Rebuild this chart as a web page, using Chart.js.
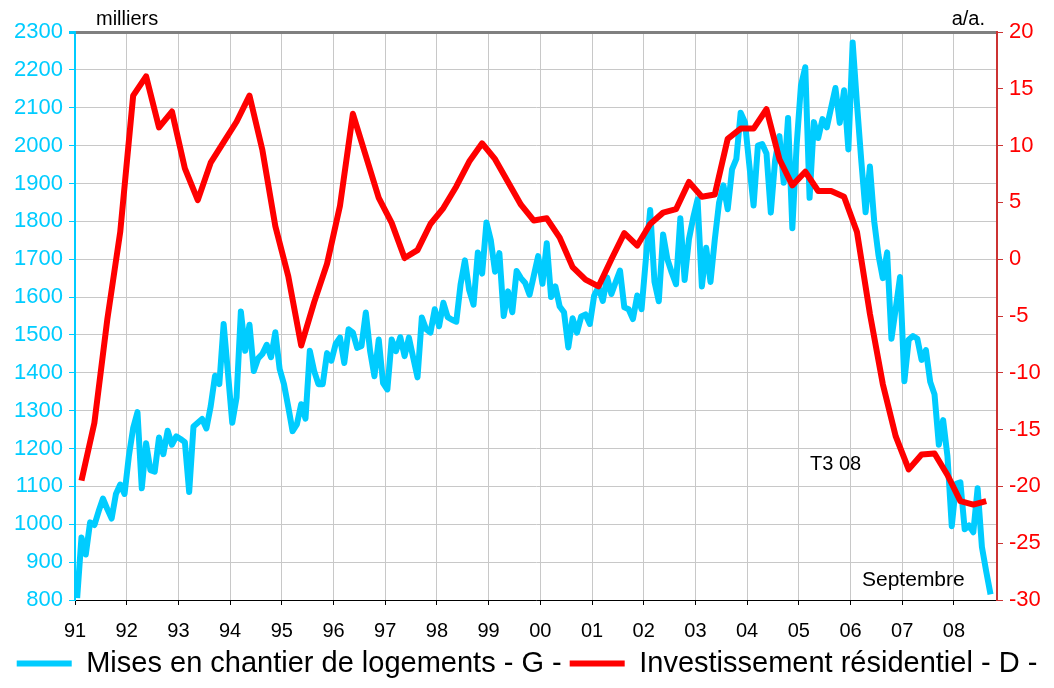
<!DOCTYPE html>
<html lang="fr">
<head>
<meta charset="UTF-8">
<title>Mises en chantier et investissement résidentiel</title>
<script src="https://cdn.jsdelivr.net/npm/chart.js"></script>
<style>
  html, body { margin: 0; padding: 0; background: #fff; }
</style>
</head>
<body>
<canvas id="graf" width="1054" height="688"></canvas>
<script>
// étiquettes de l'axe des abscisses (début de chaque année)
const annees = ['91', '92', '93', '94', '95', '96', '97', '98', '99', '00',
                '01', '02', '03', '04', '05', '06', '07', '08'];

// mises en chantier de logements, milliers, mensuel (janv. 91 -> sept. 08)
const misesEnChantier = [
  805, 965, 920, 1005, 998, 1035, 1068, 1040, 1015, 1080, 1105, 1080,
  1180, 1254, 1296, 1095, 1214, 1143, 1139, 1229, 1185, 1247, 1210, 1232,
  1225, 1217, 1085, 1258, 1268, 1278, 1253, 1312, 1392, 1370, 1529, 1400,
  1268, 1335, 1562, 1458, 1527, 1405, 1438, 1450, 1474, 1441, 1507, 1410,
  1370, 1310, 1246, 1264, 1317, 1279, 1458, 1405, 1370, 1370, 1452, 1432,
  1476, 1493, 1426, 1515, 1506, 1466, 1471, 1559, 1457, 1391, 1488, 1373,
  1356, 1488, 1457, 1494, 1444, 1493, 1440, 1388, 1546, 1515, 1506, 1568,
  1523, 1585, 1547, 1540, 1535, 1634, 1697, 1618, 1580, 1718, 1662, 1797,
  1751, 1667, 1716, 1550, 1615, 1560, 1669, 1650, 1637, 1606, 1657, 1708,
  1635, 1742, 1600, 1628, 1575, 1560, 1467, 1544, 1506, 1549, 1554, 1529,
  1604, 1626, 1590, 1652, 1608, 1640, 1670, 1573, 1568, 1542, 1604, 1568,
  1700, 1830, 1640, 1589, 1765, 1700, 1665, 1634, 1808, 1645, 1753, 1810,
  1858, 1628, 1730, 1640, 1752, 1850, 1895, 1832, 1937, 1965, 2087, 2062,
  1950, 1842, 2000, 2004, 1979, 1823, 1961, 2025, 1902, 2073, 1782, 2002,
  2159, 2207, 1862, 2062, 2020, 2070, 2048, 2100, 2152, 2060, 2146, 1990,
  2272, 2110, 1960, 1824, 1945, 1800, 1710, 1650, 1718, 1490, 1570, 1653,
  1378, 1487, 1497, 1490, 1434, 1460, 1376, 1343, 1210, 1275, 1180, 995,
  1107, 1111, 987, 997, 979, 1095, 940, 875, 815
];

// investissement résidentiel, glissement annuel en %, trimestriel (T1 91 -> T3 08)
const investResidentiel = [
  -19.5, -14.4, -5.3, 2.4,
  14.4, 16.1, 11.6, 13.0,
  8.0, 5.2, 8.5, 10.3,
  12.1, 14.4, 9.6, 2.9,
  -1.5, -7.6, -3.8, -0.4,
  4.7, 12.8, 9.1, 5.4,
  3.2, 0.1, 0.8, 3.1,
  4.5, 6.4, 8.6, 10.2,
  8.8, 6.8, 4.8, 3.4,
  3.6, 1.9, -0.7, -1.8,
  -2.4, 0.0, 2.3, 1.2,
  3.1, 4.1, 4.4, 6.8,
  5.5, 5.7, 10.6, 11.5,
  11.5, 13.2, 8.8, 6.5,
  7.7, 6.0, 6.0, 5.5,
  2.4, -4.8, -11.0, -15.6,
  -18.5, -17.2, -17.1, -19.0,
  -21.3, -21.6, -21.3
];

const police = "'Liberation Sans', Arial, sans-serif";
const cyan = '#00CCFF';
const rouge = '#FF0000';

// x = numéro du mois depuis janv. 91 ; les trimestres sont placés au mois du milieu
const ptsMises = misesEnChantier.map((v, i) => ({ x: i, y: v }));
const ptsInvest = investResidentiel.map((v, k) => ({ x: 1 + 3 * k, y: v }));

// textes libres du graphique
const textesPlugin = {
    id: 'textes',
    afterDraw(chart) {
        const c = chart.ctx;
        const a = chart.chartArea;
        c.save();
        c.fillStyle = '#000';
        c.font = '20px ' + police;
        c.textBaseline = 'alphabetic';
        c.textAlign = 'left';
        c.fillText('milliers', a.left + 21, a.top - 7);
        c.fillText('T3 08', 810, 470);
        c.font = '21px ' + police;
        c.fillText('Septembre', 862, 586);
        c.font = '20px ' + police;
        c.textAlign = 'right';
        c.fillText('a/a.', a.right - 12, a.top - 7);
        c.restore();
    }
};

const ctx = document.getElementById('graf').getContext('2d');

new Chart(ctx, {
    type: 'line',
    data: {
        datasets: [{
            label: 'Investissement résidentiel - D -',
            data: ptsInvest,
            yAxisID: 'yD',
            borderColor: rouge,
            backgroundColor: rouge,
            borderWidth: 6,
            pointRadius: 0,
            tension: 0,
            borderJoinStyle: 'round'
        }, {
            label: 'Mises en chantier de logements - G -',
            data: ptsMises,
            yAxisID: 'yG',
            borderColor: cyan,
            backgroundColor: cyan,
            borderWidth: 6,
            pointRadius: 0,
            tension: 0,
            borderJoinStyle: 'round'
        }]
    },
    options: {
        responsive: false,
        animation: false,
        devicePixelRatio: 1,
        layout: { padding: { top: 32, left: 0, right: 0, bottom: 0 } },
        scales: {
            x: {
                type: 'linear',
                min: -0.5,
                max: 213.5,
                afterBuildTicks: s => { s.ticks = annees.map((a, k) => ({ value: -0.5 + 12 * k })); },
                ticks: {
                    autoSkip: false,
                    maxRotation: 0,
                    color: '#000',
                    padding: 14,
                    font: { family: police, size: 20 },
                    callback: (v, idx) => annees[idx]
                },
                grid: { color: '#C8C8C8', lineWidth: 1, tickLength: 5, tickColor: '#000' },
                border: { color: '#000', width: 1 },
                afterFit: s => { s.height = 41; }
            },
            yG: {
                position: 'left',
                min: 800,
                max: 2300,
                ticks: {
                    stepSize: 100, color: cyan, padding: 6,
                    font: { family: police, size: 22 },
                    callback: v => String(v)
                },
                grid: {
                    color: c => c.tick && c.tick.value === 2300 ? '#808080' : '#C8C8C8',
                    lineWidth: c => c.tick && c.tick.value === 2300 ? 3 : 1,
                    tickLength: 6,
                    tickColor: cyan
                },
                border: { color: cyan, width: 2 },
                afterFit: s => { s.width = 75; }
            },
            yD: {
                position: 'right',
                min: -30,
                max: 20,
                ticks: {
                    stepSize: 5, color: rouge, padding: 6,
                    font: { family: police, size: 22 },
                    callback: v => String(v)
                },
                grid: { drawOnChartArea: false, tickLength: 6, tickColor: '#CC3333' },
                border: { color: '#CC3333', width: 2 },
                afterFit: s => { s.width = 57; }
            }
        },
        plugins: {
            tooltip: { enabled: false },
            legend: {
                position: 'bottom',
                labels: {
                    usePointStyle: true,
                    pointStyle: 'line',
                    pointStyleWidth: 55,
                    color: '#000',
                    padding: 8,
                    font: { family: police, size: 29 },
                    sort: (a, b) => b.datasetIndex - a.datasetIndex
                }
            }
        }
    },
    plugins: [textesPlugin]
});
</script>
</body>
</html>
